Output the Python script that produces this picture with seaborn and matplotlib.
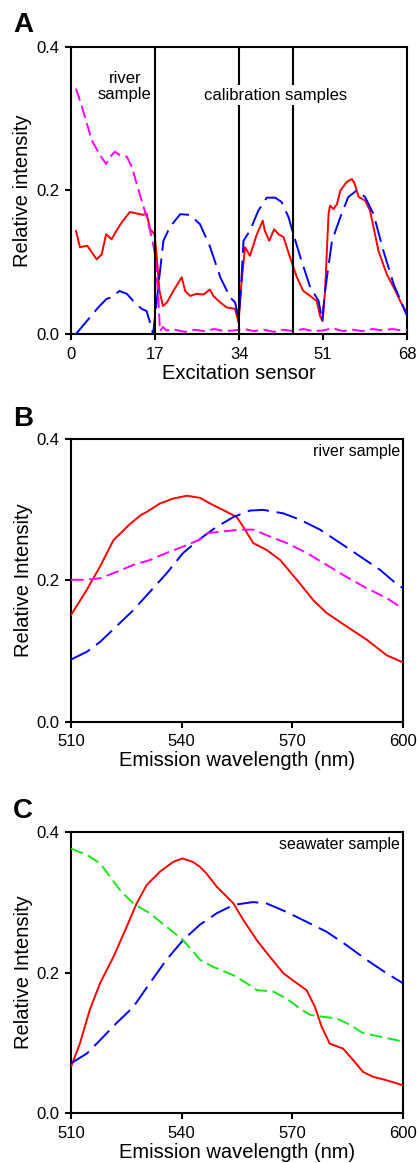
import numpy as np
import pandas as pd
import matplotlib
matplotlib.use("Agg")
import matplotlib.pyplot as plt
import seaborn as sns

# Panel A - excitation sensor profiles
a_red_x = [1.0, 1.8, 3.3, 4.2, 5.2, 6.2, 7.1, 8.2, 9.2, 10.3, 11.9, 13.3, 14.6, 15.3, 16.0, 16.9,
           17.3, 17.9, 18.6, 19.4, 20.7, 22.4, 23.1, 24.1, 25.4, 26.8, 28.1, 28.8, 30.2, 31.5, 33.2,
           33.9, 34.4, 35.2, 36.2, 37.6, 38.8, 39.2, 40.1, 41.1, 42.0, 43.0, 44.3, 45.7, 47.0, 48.4,
           49.7, 50.4, 50.9, 51.4, 52.1, 52.4, 53.1, 53.8, 54.5, 55.8, 56.8, 57.3, 58.2, 59.5, 60.5,
           62.2, 63.9, 65.3, 66.6, 68.0]
a_red_y = [0.144, 0.121, 0.123, 0.114, 0.104, 0.111, 0.139, 0.132, 0.144, 0.156, 0.170, 0.168, 0.166, 0.168, 0.146, 0.139,
           0.111, 0.060, 0.039, 0.044, 0.060, 0.079, 0.060, 0.053, 0.056, 0.055, 0.062, 0.053, 0.044, 0.037, 0.035,
           0.016, 0.065, 0.121, 0.109, 0.139, 0.158, 0.144, 0.130, 0.146, 0.139, 0.135, 0.107, 0.079, 0.060, 0.053,
           0.046, 0.025, 0.018, 0.060, 0.167, 0.179, 0.174, 0.181, 0.200, 0.212, 0.216, 0.211, 0.191, 0.186, 0.172,
           0.116, 0.083, 0.065, 0.046, 0.028]

a_blue_x = [1.0, 3.2, 5.5, 7.2, 8.2, 9.8, 11.3, 12.6, 14.3, 15.3, 15.9, 16.6, 17.7, 18.7, 20.0, 22.1,
            24.1, 26.1, 28.1, 30.2, 32.2, 33.2, 33.9, 34.4, 34.9, 36.2, 37.9, 39.6, 41.3, 42.6, 44.0,
            45.0, 46.4, 48.4, 50.1, 50.8, 51.4, 52.8, 54.5, 56.1, 57.8, 59.5, 61.2, 63.2, 65.3, 68.0]
a_blue_y = [0.000, 0.018, 0.037, 0.049, 0.051, 0.060, 0.056, 0.046, 0.035, 0.032, 0.018, 0.000, 0.069, 0.130, 0.149, 0.167,
            0.166, 0.153, 0.122, 0.079, 0.051, 0.044, 0.022, 0.065, 0.130, 0.144, 0.172, 0.190, 0.190, 0.184, 0.163,
            0.139, 0.107, 0.065, 0.046, 0.018, 0.060, 0.130, 0.163, 0.191, 0.200, 0.191, 0.167, 0.116, 0.069, 0.025]

a_mag_x = [1.0, 2.2, 4.2, 5.9, 7.1, 7.9, 8.9, 9.9, 11.3, 12.3, 13.3, 14.3, 15.3, 16.3, 17.0, 17.7,
           18.0, 18.6, 19.3, 21, 23, 25, 27, 29, 31, 33, 35, 37, 39, 41, 43, 45, 47, 49, 51, 53,
           55, 57, 59, 61, 63, 65, 67, 68]
a_mag_y = [0.342, 0.317, 0.270, 0.249, 0.237, 0.247, 0.254, 0.249, 0.247, 0.233, 0.209, 0.186, 0.163, 0.135, 0.112, 0.046,
           0.004, 0.010, 0.005, 0.006, 0.003, 0.006, 0.004, 0.007, 0.004, 0.005, 0.007, 0.004, 0.006, 0.003, 0.006, 0.004,
           0.007, 0.004, 0.005, 0.008, 0.004, 0.006, 0.004, 0.007, 0.005, 0.007, 0.005, 0.006]

# Panel B - river sample emission
b_red_x = [510, 514.3, 517.9, 521.5, 526, 529, 530.5, 534.1, 537.7, 541.4, 545, 547.7, 550.4, 554.9,
           556.7, 559.4, 563.1, 566.7, 571.2, 575.7, 579.3, 584.7, 590.2, 595.6, 600]
b_red_y = [0.151, 0.187, 0.220, 0.257, 0.280, 0.293, 0.297, 0.309, 0.316, 0.320, 0.317, 0.309, 0.302, 0.290,
           0.276, 0.253, 0.243, 0.229, 0.201, 0.172, 0.154, 0.135, 0.116, 0.094, 0.084]

b_blue_x = [510, 514.3, 517.9, 522.3, 526.9, 531.4, 535.9, 540.4, 545, 549.5, 554.1, 558.5, 562.1,
            567.6, 572.1, 577.5, 583, 588.4, 593.8, 597.6, 600]
b_blue_y = [0.088, 0.099, 0.113, 0.135, 0.158, 0.184, 0.210, 0.239, 0.259, 0.276, 0.290, 0.299, 0.300,
            0.295, 0.286, 0.272, 0.253, 0.234, 0.215, 0.198, 0.189]

b_mag_x = [510, 514.3, 517.9, 522.3, 526.9, 531.4, 535.9, 540.4, 545, 547, 550.4, 555.8, 559.4,
           563.1, 568.5, 573.9, 579.3, 584.7, 590.2, 595.6, 600]
b_mag_y = [0.201, 0.201, 0.203, 0.212, 0.222, 0.229, 0.239, 0.248, 0.258, 0.267, 0.269, 0.272, 0.272,
           0.264, 0.253, 0.239, 0.222, 0.205, 0.189, 0.175, 0.160]

# Panel C - seawater sample emission
c_red_x = [510, 512.4, 515.1, 517.9, 521.5, 525.1, 527.8, 530.5, 534.1, 537.7, 540.2, 543.1, 545, 546.7,
           549.5, 554.1, 556.7, 560.4, 564, 567.6, 571.2, 573.9, 576.2, 578, 580.2, 583.8, 586.5, 589.2,
           591.9, 595.6, 600]
c_red_y = [0.066, 0.099, 0.147, 0.185, 0.222, 0.265, 0.298, 0.324, 0.343, 0.357, 0.362, 0.357, 0.350, 0.341,
           0.322, 0.298, 0.275, 0.246, 0.222, 0.199, 0.185, 0.175, 0.151, 0.123, 0.099, 0.092, 0.076, 0.059,
           0.052, 0.047, 0.040]

c_blue_x = [510, 514.3, 517.9, 522.3, 526.9, 531.4, 535.9, 540.4, 545, 549.5, 554.1, 559.4, 563.1,
            568.5, 573.9, 579.3, 584.7, 590.2, 595.6, 600]
c_blue_y = [0.071, 0.085, 0.104, 0.128, 0.151, 0.185, 0.218, 0.246, 0.268, 0.284, 0.296, 0.300, 0.298,
            0.286, 0.272, 0.258, 0.239, 0.218, 0.199, 0.185]

c_green_x = [510, 514.3, 517.9, 520.6, 523.3, 526.9, 531.4, 535.9, 540.4, 543.1, 545, 548.6, 554.1,
             557.6, 560.4, 564.8, 568.5, 572.1, 574.8, 578.4, 582, 585.6, 589.2, 593.8, 600]
c_green_y = [0.376, 0.367, 0.355, 0.336, 0.317, 0.298, 0.284, 0.265, 0.246, 0.230, 0.218, 0.208, 0.196,
             0.185, 0.175, 0.173, 0.163, 0.149, 0.140, 0.137, 0.135, 0.126, 0.114, 0.109, 0.102]

sensor_ticks = [0, 17, 34, 51, 68]
sample_bounds = [17, 34, 45]
wl_ticks = [510, 540, 570, 600]
y_ticks = [0.0, 0.2, 0.4]

sns.set_style("ticks")
plt.rcParams['font.family'] = ['Liberation Sans', 'DejaVu Sans']
plt.rcParams['text.color'] = 'black'
plt.rcParams['axes.labelcolor'] = 'black'
plt.rcParams['axes.linewidth'] = 1.5

RED = "#ff0000"
BLUE = "#0000ff"
MAG = "#ff00ff"
GREEN = "#19e619"
LW = 1.4
long_dash = (0, (11, 4))
short_dash = (0, (6.5, 2.8))

fig = plt.figure(figsize=(4.17, 11.63), dpi=100)
axA = fig.add_axes([0.1703, 0.7128, 0.806, 0.2468])
axB = fig.add_axes([0.1703, 0.3795, 0.796, 0.2428])
axC = fig.add_axes([0.1703, 0.0427, 0.7954, 0.2422])


def line(ax, x, y, color, ls):
    sns.lineplot(x=x, y=y, ax=ax, color=color, linewidth=LW, linestyle=ls,
                 errorbar=None, sort=True, zorder=3)


line(axA, a_red_x, a_red_y, RED, "-")
line(axA, a_blue_x, a_blue_y, BLUE, long_dash)
line(axA, a_mag_x, a_mag_y, MAG, short_dash)
for b in sample_bounds:
    axA.axvline(b, color="black", lw=1.5, zorder=4)
axA.text(10.9, 0.345, "river\nsample", ha="center", va="center", fontsize=12, linespacing=1.1)
axA.text(41.3, 0.333, "calibration samples", ha="center", va="center", fontsize=12, zorder=5,
         bbox=dict(facecolor="white", edgecolor="none", pad=2))
axA.set_xlim(0, 68)
axA.set_xticks(sensor_ticks)
axA.set_xlabel("Excitation sensor")
axA.set_ylabel("Relative intensity")

line(axB, b_red_x, b_red_y, RED, "-")
line(axB, b_blue_x, b_blue_y, BLUE, long_dash)
line(axB, b_mag_x, b_mag_y, MAG, short_dash)
axB.text(0.991, 0.983, "river sample", transform=axB.transAxes, ha="right", va="top", fontsize=11.5)
axB.set_ylabel("Relative Intensity")

line(axC, c_red_x, c_red_y, RED, "-")
line(axC, c_blue_x, c_blue_y, BLUE, long_dash)
line(axC, c_green_x, c_green_y, GREEN, short_dash)
axC.text(0.991, 0.982, "seawater sample", transform=axC.transAxes, ha="right", va="top", fontsize=11.5)
axC.set_ylabel("Relative Intensity")

for ax in (axB, axC):
    ax.set_xlim(510, 600)
    ax.set_xticks(wl_ticks)
    ax.set_xlabel("Emission wavelength (nm)")

for ax in (axA, axB, axC):
    ax.set_ylim(0, 0.4)
    ax.set_yticks(y_ticks)
    ax.set_yticklabels([f"{t:.1f}" for t in y_ticks])
    for s in ax.spines.values():
        s.set_visible(True)
        s.set_color("black")
        s.set_linewidth(1.5)
    ax.tick_params(axis="both", direction="out", length=4, width=1.5, labelsize=12,
                   colors="black", labelcolor="black")
    ax.tick_params(axis="x", pad=5)
    ax.tick_params(axis="y", pad=4.5)
    ax.xaxis.label.set_size(14.5)
    ax.yaxis.label.set_size(14.5)
    ax.xaxis.set_label_coords(0.5, -0.105)
    ax.yaxis.set_label_coords(-0.115, 0.5)

fig.text(0.031, 0.9785, "A", fontsize=20, fontweight="bold", va="center", ha="left")
fig.text(0.031, 0.6397, "B", fontsize=20, fontweight="bold", va="center", ha="left")
fig.text(0.031, 0.3027, "C", fontsize=20, fontweight="bold", va="center", ha="left")

fig.savefig("out.png", dpi=100)
